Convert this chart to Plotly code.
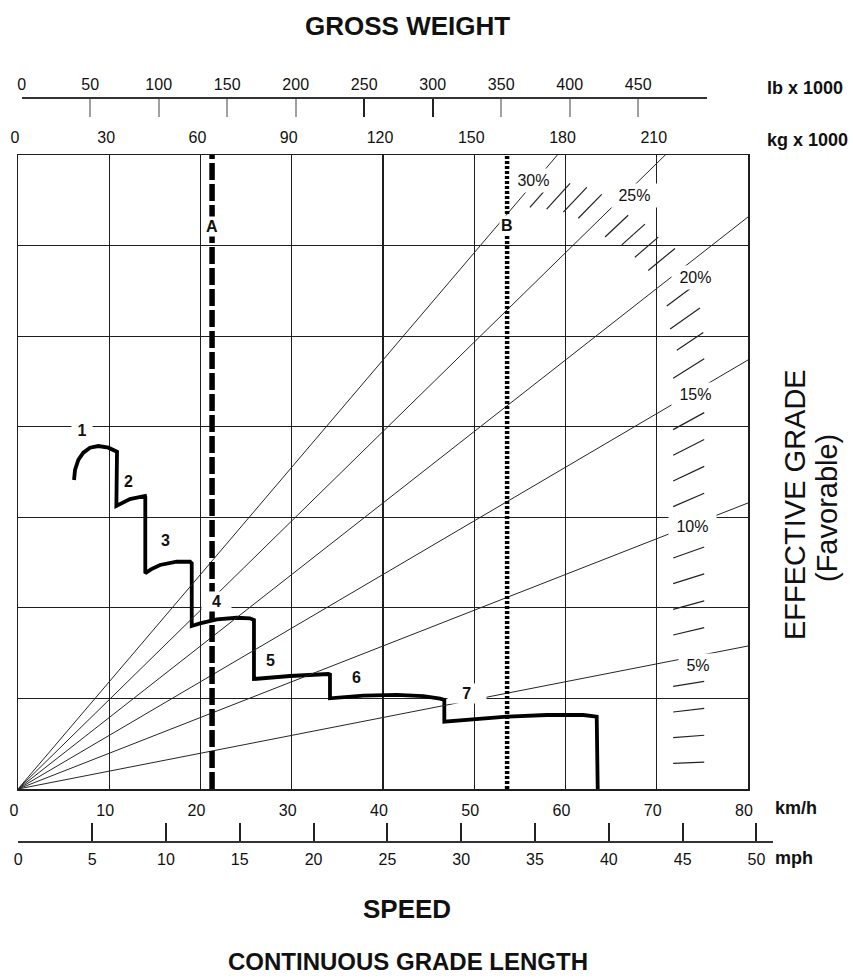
import plotly.graph_objects as go

# ---------------- canvas helpers (layout only) ----------------
W_FIG, H_FIG = 853, 978
ML, MR, MT, MB = 10, 10, 60, 100
PW = W_FIG - ML - MR
PH = H_FIG - MT - MB


def fx(p):
    return (p - ML) / PW


def fy(p):
    return (H_FIG - MB - p) / PH


# ---------------- data ----------------
kmh_ticks = [0, 10, 20, 30, 40, 50, 60, 70, 80]
mph_ticks = [0, 5, 10, 15, 20, 25, 30, 35, 40, 45, 50]
kg_ticks = [0, 30, 60, 90, 120, 150, 180, 210]
lb_ticks = [0, 50, 100, 150, 200, 250, 300, 350, 400, 450]
lb_dark_ticks = [0, 250, 300]

force_top = 53.2      # retarding force scale (tonne-force) at top of chart
force_step = 7.6

# main grade lines (%), label anchor (weight t, force)
grades_main = [5, 10, 15, 20, 25, 30]
grade_label_w = [223.7, 221.8, 222.9, 222.9, 202.8, 169.6]
grade_label_f = [10.4, 22.0, 33.1, 42.96, 49.84, 51.1]

# intermediate grade ticks (%), start/end weight (t)
minor_grades = [1, 2, 3, 4, 6, 7, 8, 9, 11, 12, 13, 14, 16, 17, 18, 19,
                21, 22, 23, 24, 26, 27, 28, 29]
minor_w_start = [215.4, 215.4, 215.4, 215.4, 215.4, 215.4, 215.4, 215.4,
                 215.4, 215.4, 215.4, 215.4, 215.4, 216.6, 214.4, 213.3,
                 207.2, 202.8, 198.5, 193.0, 184.2, 179.3, 173.8, 168.3]
minor_w_end = [225.6, 225.6, 225.6, 225.6, 225.6, 225.6, 225.6, 225.6,
               225.6, 225.6, 225.6, 225.6, 225.6, 225.3, 224.2, 222.0,
               216.0, 210.5, 206.1, 200.6, 191.9, 187.0, 181.5, 173.3]

# gross weight reference lines (t)
weight_lines = ["A", "B"]
weight_values = [63.8, 160.8]
weight_label_f = [47.2, 47.3]

# retarder performance curve (speed km/h, retarding force)
retarder_kmh = [6.14, 6.25, 6.61, 7.16, 7.89, 8.80, 9.90, 10.82, 10.85,
                10.78, 12.27, 13.92, 13.95,
                13.95, 14.57, 15.56, 17.39, 18.85, 19.04,
                19.04, 19.95, 21.78, 23.97, 25.42, 25.86,
                25.86, 29.81, 34.00, 34.19,
                34.19, 37.84, 41.50, 44.42, 46.25, 46.72,
                46.72, 50.63, 53.56, 57.94, 61.95, 63.42, 63.53]
retarder_force = [25.93, 26.77, 27.61, 28.22, 28.64, 28.78, 28.64, 28.39, 28.30,
                  23.75, 24.33, 24.59, 24.50,
                  18.10, 18.43, 18.80, 19.07, 19.07, 18.93,
                  13.68, 13.90, 14.24, 14.37, 14.32, 14.18,
                  9.23, 9.48, 9.65, 9.60,
                  7.61, 7.83, 7.89, 7.80, 7.58, 7.47,
                  5.65, 5.93, 6.07, 6.21, 6.21, 6.07, 0.0]

gear_labels = ["1", "2", "3", "4", "5", "6", "7"]
gear_label_kmh = [7.0, 12.16, 16.11, 21.78, 27.62, 37.12, 49.17]
gear_label_force = [30.12, 25.79, 20.89, 15.72, 10.82, 9.37, 8.03]
gear_label_pad = [1, 0, 0, 2, 0, 0, 3]

# ---------------- styles ----------------
FONT = "Liberation Sans, Arial, sans-serif"
GRID = "#1e1e1e"
INK = "#111111"
NB = "\u00a0"

fig = go.Figure()

# grade lines
for g in grades_main:
    fig.add_trace(go.Scatter(
        x=[0, 240], y=[0, g / 100 * 240], xaxis="x2", yaxis="y",
        mode="lines", line=dict(color="#262626", width=1.0),
        hoverinfo="skip", showlegend=False))

# intermediate grade ticks
mx, my = [], []
for g, ws, we in zip(minor_grades, minor_w_start, minor_w_end):
    mx += [ws, we, None]
    my += [g / 100 * ws, g / 100 * we, None]
fig.add_trace(go.Scatter(
    x=mx, y=my, xaxis="x2", yaxis="y", mode="lines",
    line=dict(color="#222222", width=1.2), hoverinfo="skip", showlegend=False))

# weight lines A / B
fig.add_trace(go.Scatter(
    x=[weight_values[0], weight_values[0]], y=[0, force_top], xaxis="x2", yaxis="y",
    mode="lines", line=dict(color="black", width=5.5, dash="17px,4px"),
    hoverinfo="skip", showlegend=False))
fig.add_trace(go.Scatter(
    x=[weight_values[1], weight_values[1]], y=[0, force_top], xaxis="x2", yaxis="y",
    mode="lines", line=dict(color="black", width=4.5, dash="3px,2px"),
    hoverinfo="skip", showlegend=False))

# retarder curve
fig.add_trace(go.Scatter(
    x=retarder_kmh, y=retarder_force, xaxis="x", yaxis="y", mode="lines",
    line=dict(color="black", width=3.8), hoverinfo="skip", showlegend=False))

# dummy traces to create the auxiliary scale subplots
for xa, ya in [("x3", "y3"), ("x4", "y3"), ("x5", "y5")]:
    fig.add_trace(go.Scatter(x=[0], y=[-1], xaxis=xa, yaxis=ya, mode="markers",
                             marker=dict(size=1, color="rgba(0,0,0,0)"),
                             hoverinfo="skip", showlegend=False))

tickfont = dict(family=FONT, size=16, color=INK)

fig.update_layout(
    width=W_FIG, height=H_FIG,
    margin=dict(l=ML, r=MR, t=MT, b=MB, autoexpand=False),
    paper_bgcolor="white", plot_bgcolor="white",
    showlegend=False,
    xaxis=dict(domain=[fx(18), fx(748)], range=[0, 80], tickvals=kmh_ticks,
               showgrid=True, gridcolor=GRID, gridwidth=1.2,
               showline=True, mirror=True, linecolor=GRID, linewidth=1.5,
               ticks="", tickfont=tickfont, zeroline=False, anchor="y",
               ticklabelstandoff=6, ticklabelshift=-4, fixedrange=True,
               automargin=False),
    yaxis=dict(domain=[fy(789), fy(155)], range=[0, force_top], tick0=0,
               dtick=force_step, showgrid=True, gridcolor=GRID, gridwidth=1.2,
               showline=True, mirror=True, linecolor=GRID, linewidth=1.5,
               showticklabels=False, ticks="", zeroline=False, anchor="x",
               fixedrange=True, automargin=False),
    xaxis2=dict(overlaying="x", side="top", anchor="y", range=[0, 240],
                tickvals=kg_ticks, showgrid=False, showline=False, ticks="",
                tickfont=tickfont, zeroline=False, ticklabelstandoff=8,
                ticklabelshift=-3, fixedrange=True, automargin=False),
    xaxis3=dict(domain=[fx(21.7), fx(706.7)], anchor="y3", side="top",
                range=[0, 500], tickvals=lb_ticks, ticks="inside", ticklen=18,
                tickcolor="#a0a0a0", tickwidth=2, showline=True,
                linecolor="#333333", linewidth=1.6, showgrid=False,
                zeroline=False, tickfont=tickfont, ticklabelstandoff=1,
                fixedrange=True, automargin=False),
    yaxis3=dict(domain=[fy(100), fy(99)], anchor="x3", visible=False,
                range=[0, 1], fixedrange=True, automargin=False),
    xaxis4=dict(overlaying="x3", anchor="y3", side="top", range=[0, 500],
                tickvals=lb_dark_ticks, ticks="inside", ticklen=18,
                tickcolor="#222222", tickwidth=2, showticklabels=False,
                showline=False, showgrid=False, zeroline=False, fixedrange=True,
                automargin=False),
    xaxis5=dict(domain=[fx(18.3), fx(772.7)], anchor="y5", side="bottom",
                range=[0, 51.1], tickvals=mph_ticks, ticks="inside", ticklen=18,
                tickcolor="#222222", tickwidth=2, showline=True,
                linecolor="#333333", linewidth=1.6, showgrid=False,
                zeroline=False, tickfont=tickfont, ticklabelstandoff=3,
                fixedrange=True, automargin=False),
    yaxis5=dict(domain=[fy(841), fy(840)], anchor="x5", visible=False,
                range=[0, 1], fixedrange=True, automargin=False),
)

ann = []
# grade labels
for g, w, f in zip(grades_main, grade_label_w, grade_label_f):
    ann.append(dict(text=NB + f"{g}%" + NB, x=w, y=f, xref="x2", yref="y",
                    showarrow=False, bgcolor="white", borderpad=3,
                    font=dict(family=FONT, size=16, color=INK)))
# weight line labels
for t, w, f in zip(weight_lines, weight_values, weight_label_f):
    ann.append(dict(text=t, x=w, y=f, xref="x2", yref="y", showarrow=False,
                    bgcolor="white", borderpad=1,
                    font=dict(family=FONT, size=16, color=INK, weight="bold")))
# gear labels
for t, v, f, p in zip(gear_labels, gear_label_kmh, gear_label_force, gear_label_pad):
    ann.append(dict(text=NB * p + t + NB * p, x=v, y=f, xref="x", yref="y",
                    showarrow=False, bgcolor="white" if p else "rgba(0,0,0,0)",
                    borderpad=1,
                    font=dict(family=FONT, size=16, color=INK, weight="bold")))

unit_font = dict(family=FONT, size=18, color=INK, weight="bold")
for t, xp, yp in [("lb x 1000", 765, 88), ("kg x 1000", 765, 139.5),
                  ("km/h", 772.7, 808), ("mph", 772.7, 858)]:
    ann.append(dict(text=t, x=fx(xp), y=fy(yp), xref="paper", yref="paper",
                    xanchor="left", yanchor="middle", showarrow=False,
                    font=unit_font))

for t, xp, yp, sz in [("GROSS WEIGHT", 407, 26, 26), ("SPEED", 407, 909, 26),
                      ("CONTINUOUS GRADE LENGTH", 408, 961, 24)]:
    ann.append(dict(text=t, x=fx(xp), y=fy(yp), xref="paper", yref="paper",
                    xanchor="center", yanchor="middle", showarrow=False,
                    borderpad=0,
                    font=dict(family=FONT, size=sz, color=INK, weight="bold")))

side_font = dict(family=FONT, size=29, color=INK)
for t, xp, yp in [("EFFECTIVE GRADE", 795, 505), ("(Favorable)", 827, 508)]:
    ann.append(dict(text=t, x=fx(xp), y=fy(yp), xref="paper", yref="paper",
                    xanchor="center", yanchor="middle", textangle=-90,
                    showarrow=False, font=side_font))

fig.update_layout(annotations=ann)
# remove the default page margin so the figure fills the 853x978 window exactly
fig.write_html("out.html",
               config={"displayModeBar": False, "staticPlot": True},
               post_script="document.body.style.margin='0';"
                           "document.body.style.padding='0';")
